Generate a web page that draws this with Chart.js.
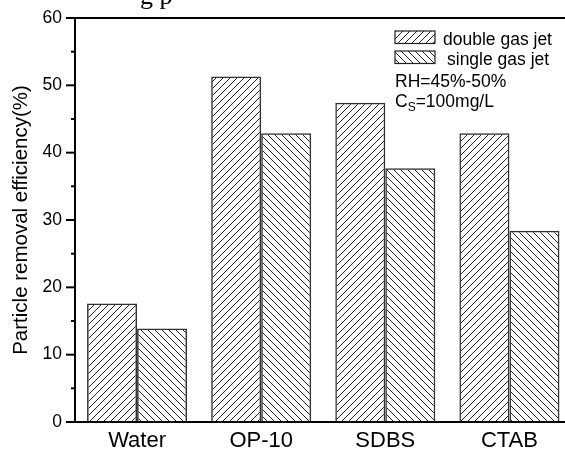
<!DOCTYPE html>
<html>
<head>
<meta charset="utf-8">
<script src="https://cdn.jsdelivr.net/npm/chart.js@4.4.0/dist/chart.umd.min.js"></script>
<style>
  html, body { margin: 0; padding: 0; background: #fff; overflow: hidden; }
  #wrap { width: 575px; height: 449px; }
</style>
</head>
<body>
<div id="wrap"><canvas id="mybar" width="575" height="449"></canvas></div>
<script>
// values
const categories = ["Water", "OP-10", "SDBS", "CTAB"];
const doubleJet = [17.6, 51.3, 47.4, 42.9];
const singleJet = [13.9, 42.9, 37.7, 28.4];
const yTicks = [0, 10, 20, 30, 40, 50, 60];
const notes = ["RH=45%-50%", "C", "S", "=100mg/L"];
const captionBit = "g p"; // cropped caption text at the very top

const FONT = "'Liberation Sans', Arial, sans-serif";

// hatch fills
function hatch(dir) {
  var s = 7;
  var c = document.createElement("canvas");
  c.width = s; c.height = s;
  var g = c.getContext("2d");
  g.strokeStyle = "#222";
  g.lineWidth = 1;
  g.beginPath();
  if (dir == "/") {
    g.moveTo(-1, s + 1); g.lineTo(s + 1, -1);
    g.moveTo(-1, 1); g.lineTo(1, -1);
    g.moveTo(s - 1, s + 1); g.lineTo(s + 1, s - 1);
  } else {
    g.moveTo(-1, -1); g.lineTo(s + 1, s + 1);
    g.moveTo(s - 1, -1); g.lineTo(s + 1, 1);
    g.moveTo(-1, s - 1); g.lineTo(1, s + 1);
  }
  g.stroke();
  return g.createPattern(c, "repeat");
}
var ctx = document.getElementById("mybar").getContext("2d");
var fillDouble = hatch("/");
var fillSingle = hatch("\\");

const decor = {
  id: "decor",
  afterDraw: function (chart) {
    var c = chart.ctx, a = chart.chartArea, ys = chart.scales.y;
    c.save();
    c.strokeStyle = "#000";
    c.lineWidth = 2;
    // frame top line
    c.beginPath();
    c.moveTo(a.left - 1, a.top);
    c.lineTo(chart.width, a.top);
    c.stroke();
    // y tick marks, long at labelled values
    for (var v = 0; v <= 60; v += 5) {
      var y = ys.getPixelForValue(v);
      var len = yTicks.indexOf(v) >= 0 ? 9 : 4;
      c.beginPath();
      c.moveTo(a.left - len, y);
      c.lineTo(a.left, y);
      c.stroke();
    }
    // legend
    var rows = [[31, 443], [51, 447]];
    chart.data.datasets.forEach(function (ds, i) {
      var by = rows[i][0];
      c.fillStyle = ds.backgroundColor;
      c.fillRect(395, by, 40, 12.5);
      c.lineWidth = 1.2;
      c.strokeStyle = "#222";
      c.strokeRect(395, by, 40, 12.5);
      c.fillStyle = "#000";
      c.font = "17.5px " + FONT;
      c.textBaseline = "alphabetic";
      c.fillText(ds.label, rows[i][1], by + 14);
    });
    c.font = "17.5px " + FONT;
    c.fillText(notes[0], 395, 87);
    c.fillText(notes[1], 395, 106.5);
    var w = c.measureText(notes[1]).width;
    c.font = "12px " + FONT;
    c.fillText(notes[2], 395 + w, 111);
    var w2 = c.measureText(notes[2]).width;
    c.font = "17.5px " + FONT;
    c.fillText(notes[3], 395 + w + w2, 106.5);
    // cropped caption above the plot
    c.font = "26px 'Liberation Serif', 'Times New Roman', serif";
    c.fillText(captionBit, 140, 4);
    c.restore();
  }
};

var myChart = new Chart(ctx, {
  type: "bar",
  data: {
    labels: categories,
    datasets: [{
      label: "double gas jet",
      data: doubleJet,
      backgroundColor: fillDouble,
      borderColor: "#333",
      borderWidth: 1.5,
      barPercentage: 1,
      categoryPercentage: 0.806
    }, {
      label: "single gas jet",
      data: singleJet,
      backgroundColor: fillSingle,
      borderColor: "#333",
      borderWidth: 1.5,
      barPercentage: 1,
      categoryPercentage: 0.806
    }]
  },
  options: {
    responsive: false,
    animation: false,
    layout: { padding: { top: 18, right: 3.5, left: 0, bottom: 0 } },
    plugins: {
      legend: { display: false },
      tooltip: { enabled: false }
    },
    scales: {
      x: {
        grid: { display: false, drawTicks: false, tickLength: 0 },
        border: { display: true, color: "#000", width: 2 },
        ticks: { color: "#000", font: { family: FONT, size: 22 }, padding: 6 },
        afterFit: function (s) { s.height = 27; }
      },
      y: {
        min: 0,
        max: 60,
        grid: { display: true, drawOnChartArea: false, tickLength: 9, tickColor: "rgba(0,0,0,0)" },
        border: { display: true, color: "#000", width: 2 },
        ticks: {
          stepSize: 10,
          color: "#000",
          padding: 4,
          font: { family: FONT, size: 17.5 }
        },
        title: {
          display: true,
          text: "Particle removal efficiency(%)",
          color: "#000",
          font: { family: FONT, size: 20.5 },
          padding: { top: 9, bottom: 0 }
        },
        afterFit: function (s) { s.width = 75; }
      }
    }
  },
  plugins: [decor]
});
</script>
</body>
</html>
